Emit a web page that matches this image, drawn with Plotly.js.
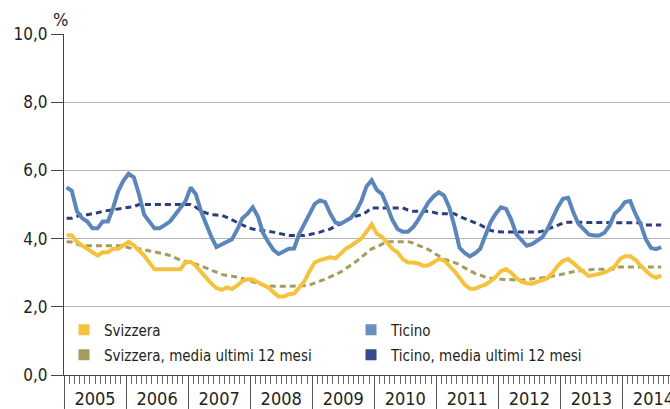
<!DOCTYPE html>
<html>
<head>
<meta charset="utf-8">
<script src="https://cdn.plot.ly/plotly-3.0.1.min.js"></script>
<style>html,body{margin:0;padding:0;background:#fff;}#chart{width:670px;height:409px;}</style>
</head>
<body>
<div id="chart"></div>
<script>
// Monthly values, January 2005 onward (unemployment rate, %)
var anni = ['2005','2006','2007','2008','2009','2010','2011','2012','2013','2014'];

var svizzera = [
  4.1, 4.1, 3.9, 3.8, 3.7, 3.6, 3.5, 3.6, 3.6, 3.7, 3.7, 3.8,
  3.9, 3.8, 3.65, 3.5, 3.3, 3.1, 3.1, 3.1, 3.1, 3.1, 3.1, 3.3,
  3.32, 3.2, 3.02, 2.87, 2.68, 2.55, 2.5, 2.57, 2.52, 2.63, 2.75, 2.81,
  2.8, 2.72, 2.63, 2.57, 2.43, 2.3, 2.3, 2.37, 2.39, 2.55, 2.75, 3.05,
  3.3, 3.37, 3.4, 3.45, 3.42, 3.58, 3.7, 3.79, 3.88, 4.0, 4.2, 4.42,
  4.14, 4.05, 3.88, 3.7, 3.6, 3.4, 3.3, 3.3, 3.27, 3.2, 3.22, 3.3,
  3.4, 3.36, 3.22, 3.05, 2.85, 2.65, 2.53, 2.53, 2.6, 2.65, 2.75, 2.88,
  3.05, 3.1, 3.0, 2.84, 2.74, 2.69, 2.68, 2.73, 2.8, 2.84, 3.0, 3.2,
  3.35, 3.4, 3.28, 3.14, 3.02, 2.9, 2.94, 2.98, 3.0, 3.08, 3.18, 3.4,
  3.48, 3.48, 3.38, 3.21, 3.07, 2.92, 2.85, 2.92
];

var svizzeraMedia = [
  3.91, 3.9, 3.84, 3.79, 3.79, 3.79, 3.79, 3.79, 3.79, 3.79, 3.79, 3.79,
  3.73, 3.7, 3.7, 3.67, 3.64, 3.63, 3.6, 3.55, 3.5, 3.43, 3.37, 3.33,
  3.3, 3.25, 3.2, 3.14, 3.08, 3.0, 2.95, 2.92, 2.9, 2.87, 2.83, 2.78,
  2.73, 2.68, 2.64, 2.61, 2.6, 2.6, 2.6, 2.6, 2.6, 2.6, 2.62, 2.64,
  2.69, 2.74, 2.81, 2.88, 2.95, 3.02, 3.12, 3.22, 3.33, 3.45, 3.58, 3.7,
  3.76, 3.83, 3.91, 3.91, 3.91, 3.91, 3.91, 3.87, 3.81, 3.75, 3.68, 3.58,
  3.49, 3.4, 3.35, 3.29, 3.24, 3.14, 3.06, 2.98, 2.93, 2.87, 2.84, 2.81,
  2.81, 2.8, 2.78, 2.78, 2.78, 2.8, 2.81, 2.83, 2.85, 2.87, 2.89, 2.93,
  2.96, 3.0, 3.03, 3.05, 3.07, 3.1, 3.1, 3.1, 3.1, 3.1, 3.1, 3.17,
  3.17, 3.17, 3.17, 3.17, 3.17, 3.17, 3.17, 3.17
];

var ticino = [
  5.5, 5.4, 4.8, 4.6, 4.5, 4.3, 4.3, 4.5, 4.5, 4.9, 5.4, 5.7,
  5.9, 5.8, 5.3, 4.7, 4.5, 4.3, 4.3, 4.4, 4.5, 4.7, 4.9, 5.1,
  5.5, 5.3, 4.8, 4.4, 4.05, 3.75, 3.82, 3.91, 3.98, 4.26, 4.6, 4.73,
  4.92, 4.65, 4.16, 3.9, 3.67, 3.55, 3.62, 3.7, 3.71, 4.14, 4.43, 4.73,
  5.02, 5.12, 5.07, 4.73, 4.47, 4.43, 4.51, 4.61, 4.8, 5.1, 5.53, 5.71,
  5.43, 5.31, 4.95, 4.55, 4.28, 4.2, 4.2, 4.33, 4.55, 4.82, 5.07, 5.24,
  5.36, 5.26, 4.92, 4.37, 3.73, 3.58, 3.48, 3.57, 3.7, 4.09, 4.48, 4.73,
  4.92, 4.87, 4.55, 4.12, 3.94, 3.79, 3.84, 3.94, 4.04, 4.28, 4.63, 4.92,
  5.17, 5.2, 4.77, 4.43, 4.28, 4.12, 4.09, 4.09, 4.17, 4.38, 4.73, 4.87,
  5.07, 5.1, 4.73, 4.43, 3.99, 3.73, 3.69, 3.75
];

var ticinoMedia = [
  4.6, 4.6, 4.65, 4.7, 4.7, 4.72, 4.76, 4.8, 4.82, 4.85, 4.88, 4.9,
  4.92, 4.94, 5.0, 5.0, 5.0, 5.0, 5.0, 5.0, 5.0, 5.0, 5.0, 5.0,
  5.0, 4.92, 4.82, 4.75, 4.7, 4.69, 4.68, 4.62, 4.55, 4.47, 4.39, 4.33,
  4.28, 4.25, 4.22, 4.21, 4.19, 4.16, 4.12, 4.09, 4.09, 4.09, 4.09, 4.12,
  4.15, 4.19, 4.24, 4.28, 4.37, 4.45, 4.52, 4.6, 4.66, 4.7, 4.78, 4.9,
  4.9, 4.9, 4.9, 4.9, 4.9, 4.9, 4.84, 4.8, 4.8, 4.8, 4.8, 4.77,
  4.73, 4.73, 4.73, 4.73, 4.65, 4.59, 4.53, 4.46, 4.4, 4.32, 4.24, 4.2,
  4.19, 4.19, 4.19, 4.19, 4.19, 4.19, 4.19, 4.19, 4.22, 4.28, 4.34, 4.4,
  4.45, 4.48, 4.48, 4.48, 4.48, 4.48, 4.48, 4.48, 4.48, 4.48, 4.48, 4.48,
  4.48, 4.48, 4.48, 4.46, 4.4, 4.4, 4.4, 4.4
];

var nomi = ['Svizzera', 'Ticino', 'Svizzera, media ultimi 12 mesi', 'Ticino, media ultimi 12 mesi'];

var FONT = '"DejaVu Sans Condensed", "DejaVu Sans", sans-serif';
var TXT = '#231f20';
var C_SVI = '#F4C23C', C_SVI_M = '#A39C5C', C_TI = '#5B86B9', C_TI_M = '#2E3C80';
var C_TI_LEG = '#6A90C2', C_TI_M_LEG = '#374A8C';

var mesi = svizzera.map(function (_, i) { return i; });
var xRange = [-0.5, 116.7];
var confini = anni.map(function (_, k) { return 12 * k - 0.5; });
var centri = anni.map(function (_, k) { return 12 * k + 5.5; });

function linea(y, color, width, dash) {
  return { type: 'scatter', mode: 'lines', x: mesi, y: y, showlegend: false, hoverinfo: 'skip',
           line: { color: color, width: width, dash: dash || 'solid', shape: 'linear' } };
}
function voce(name, color, leg) {
  return { type: 'scatter', mode: 'markers', x: [null], y: [null], xaxis: 'x2', name: name, legend: leg,
           marker: { symbol: 'square', size: 11, color: color } };
}

var data = [
  linea(svizzeraMedia, C_SVI_M, 3, '6px,4px'),
  linea(ticinoMedia, C_TI_M, 3, '6px,4px'),
  linea(svizzera, C_SVI, 4),
  linea(ticino, C_TI, 4),
  voce(nomi[0], C_SVI, 'legend'),
  voce(nomi[1], C_TI_LEG, 'legend'),
  voce(nomi[2], C_SVI_M, 'legend2'),
  voce(nomi[3], C_TI_M_LEG, 'legend2')
];

function legenda(yPos) {
  return { orientation: 'h', x: 0, y: yPos, xanchor: 'left', yanchor: 'middle',
           entrywidth: 242, entrywidthmode: 'pixels', bgcolor: 'rgba(0,0,0,0)', borderwidth: 0,
           font: { family: FONT, size: 15, color: TXT }, itemwidth: 30, traceorder: 'normal' };
}

var layout = {
  width: 670, height: 409,
  margin: { l: 64, r: 0, t: 34, b: 34, pad: 0 },
  paper_bgcolor: '#ffffff', plot_bgcolor: '#ffffff',
  font: { family: FONT, size: 15, color: TXT },
  separators: ',.',
  showlegend: true,
  legend: legenda((375 - 330) / 341),
  legend2: legenda((375 - 355) / 341),
  xaxis: { range: xRange, showline: true, linecolor: '#444444', linewidth: 1, automargin: false,
           ticks: 'outside', tickmode: 'array', tickvals: confini, ticklen: 34, tickwidth: 1, tickcolor: '#555555',
           showticklabels: false, showgrid: false, zeroline: false, fixedrange: true,
           minor: { ticks: 'outside', tick0: -0.5, dtick: 1, ticklen: 8, tickwidth: 1, tickcolor: '#666666', showgrid: false } },
  xaxis2: { overlaying: 'x', anchor: 'y', side: 'bottom', range: xRange, tickmode: 'array', automargin: false,
            tickvals: centri, ticktext: anni, ticks: '', showgrid: false, zeroline: false, showline: false,
            ticklabeloverflow: 'allow',
            tickfont: { family: FONT, size: 18, color: TXT }, ticklabelstandoff: 11 },
  yaxis: { range: [0, 10], tickmode: 'array', tickvals: [0, 2, 4, 6, 8, 10], tickformat: '.1f', automargin: false,
           ticks: 'outside', ticklen: 12, tickwidth: 1, tickcolor: '#444444',
           showline: true, linecolor: '#444444', linewidth: 1,
           showgrid: true, gridcolor: '#b4b4b4', gridwidth: 1, zeroline: false,
           tickfont: { family: FONT, size: 17, color: TXT } },
  annotations: [{ text: '%', xref: 'paper', yref: 'paper', x: 0, y: 1, xanchor: 'center', yanchor: 'bottom',
                  xshift: -4, yshift: 2, showarrow: false, font: { family: FONT, size: 18, color: TXT } }]
};

Plotly.newPlot('chart', data, layout, { staticPlot: true, displayModeBar: false });
</script>
</body>
</html>
